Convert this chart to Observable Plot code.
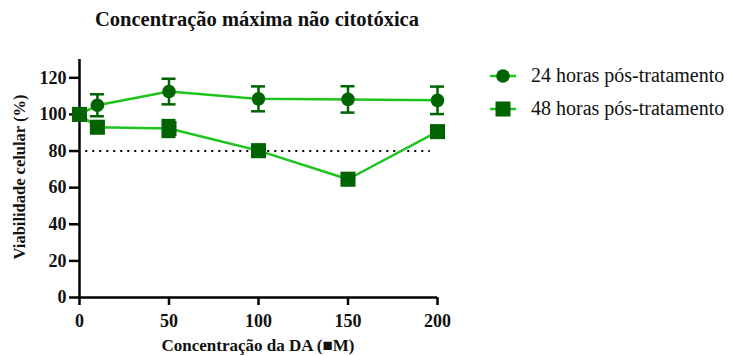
<!DOCTYPE html>
<html><head><meta charset="utf-8">
<script src="https://cdn.jsdelivr.net/npm/d3@7"></script>
<script src="https://cdn.jsdelivr.net/npm/@observablehq/plot@0.6"></script>
<style>
body{margin:0;background:#fff;}
#wrap{position:relative;width:729px;height:356px;overflow:hidden;font-family:"Liberation Serif","Times New Roman",serif;}
#wrap svg text{font-family:"Liberation Serif","Times New Roman",serif !important;font-weight:bold !important;font-size:18px !important;fill:#111;}
#title{position:absolute;left:0;width:514px;top:8px;text-align:center;font-weight:bold;font-size:20.5px;color:#111;}
#ylab{position:absolute;left:20px;top:177px;transform:translate(-50%,-50%) rotate(-90deg);white-space:nowrap;font-weight:bold;font-size:16.5px;color:#111;}
#xlab{position:absolute;left:258px;top:336px;line-height:19px;transform:translateX(-50%);white-space:nowrap;font-weight:bold;font-size:17px;color:#111;}
#legend{position:absolute;left:490px;top:59px;font-size:20px;color:#111;}
#legend .row{display:flex;align-items:center;height:33px;}
#legend .row svg{margin-right:15px;}
</style></head>
<body><div id="wrap"><div id="title"></div></div>
<script>
const concentrations = [0, 10, 50, 100, 150, 200];
const series24Label = "24 horas pós-tratamento";
const series48Label = "48 horas pós-tratamento";
const viab24 = [100, 105, 112.5, 108.5, 108.2, 107.7];
const err24 = [0, 6, 7, 6.8, 7.2, 7.5];
const viab48 = [100, 93, 92.3, 80.2, 64.6, 90.6];
const err48 = [0, 0, 4.6, 0, 0, 0];
const yTicks = [0, 20, 40, 60, 80, 100, 120];
const xTicks = [0, 50, 100, 150, 200];
const yMax = 130;
const threshold = 80;
const thresholdSpan = [3.5, 196];
const titleText = "Concentração máxima não citotóxica";
const xLabel = "Concentração da DA (■M)";
const yLabel = "Viabilidade celular (%)";

const lineColor = "#1ec41e";
const markColor = "#016301";

const rows24 = concentrations.map((c, i) => ({x: c, y: viab24[i], e: err24[i]}));
const rows48 = concentrations.map((c, i) => ({x: c, y: viab48[i], e: err48[i]}));
const errRows24 = rows24.filter(d => d.e > 0);
const errRows48 = rows48.filter(d => d.e > 0);

const chart = Plot.plot({
  width: 729, height: 356,
  marginLeft: 79, marginRight: 292, marginTop: 59, marginBottom: 59,
  x: {domain: [0, 200]},
  y: {domain: [0, yMax]},
  marks: [
    Plot.axisY({ticks: yTicks, tickSize: 10, tickPadding: 3, strokeWidth: 2.5, label: null}),
    Plot.axisX({ticks: xTicks, tickSize: 8, tickPadding: 9, strokeWidth: 2.5, label: null}),
    Plot.ruleX([0], {y1: 0, y2: yMax, stroke: "#000", strokeWidth: 2.5}),
    Plot.ruleY([0], {x1: 0, x2: 200, stroke: "#000", strokeWidth: 2.5}),
    Plot.ruleY([threshold], {x1: thresholdSpan[0], x2: thresholdSpan[1], stroke: "#000", strokeWidth: 2, strokeDasharray: "2 5"}),
    Plot.line(rows24, {x: "x", y: "y", stroke: lineColor, strokeWidth: 2.5}),
    Plot.line(rows48, {x: "x", y: "y", stroke: lineColor, strokeWidth: 2.5}),
    Plot.ruleX(errRows24, {x: "x", y1: d => d.y - d.e, y2: d => d.y + d.e, stroke: markColor, strokeWidth: 2.5}),
    Plot.ruleY(errRows24, {y: d => d.y - d.e, x1: "x", x2: "x", insetLeft: -7, insetRight: -7, stroke: markColor, strokeWidth: 2.5}),
    Plot.ruleY(errRows24, {y: d => d.y + d.e, x1: "x", x2: "x", insetLeft: -7, insetRight: -7, stroke: markColor, strokeWidth: 2.5}),
    Plot.ruleX(errRows48, {x: "x", y1: d => d.y - d.e, y2: d => d.y + d.e, stroke: markColor, strokeWidth: 2.5}),
    Plot.ruleY(errRows48, {y: d => d.y - d.e, x1: "x", x2: "x", insetLeft: -7, insetRight: -7, stroke: markColor, strokeWidth: 2.5}),
    Plot.ruleY(errRows48, {y: d => d.y + d.e, x1: "x", x2: "x", insetLeft: -7, insetRight: -7, stroke: markColor, strokeWidth: 2.5}),
    Plot.dot(rows24, {x: "x", y: "y", r: 6.8, fill: markColor, stroke: "none", symbol: "circle"}),
    Plot.dot(rows48, {x: "x", y: "y", r: 8.5, fill: markColor, stroke: "none", symbol: "square"})
  ]
});
const wrap = document.getElementById("wrap");
wrap.insertBefore(chart, wrap.firstChild);
chart.style.position = "absolute"; chart.style.left = "0"; chart.style.top = "0";
document.getElementById("title").textContent = titleText;

const yl = document.createElement("div"); yl.id = "ylab"; yl.textContent = yLabel; wrap.appendChild(yl);
const xl = document.createElement("div"); xl.id = "xlab"; xl.textContent = xLabel; wrap.appendChild(xl);

const legend = document.createElement("div"); legend.id = "legend";
const mk = (label, shape) => {
  const row = document.createElement("div"); row.className = "row";
  const sym = shape === "circle"
    ? `<circle cx="13" cy="8" r="6.8" fill="${markColor}"/>`
    : `<rect x="5.5" y="0.5" width="15" height="15" fill="${markColor}"/>`;
  row.innerHTML = `<svg width="26" height="16"><line x1="0" x2="26" y1="8" y2="8" stroke="${lineColor}" stroke-width="2.5"/>${sym}</svg><span></span>`;
  row.querySelector("span").textContent = label;
  return row;
};
legend.appendChild(mk(series24Label, "circle"));
legend.appendChild(mk(series48Label, "square"));
wrap.appendChild(legend);
</script></body></html>
